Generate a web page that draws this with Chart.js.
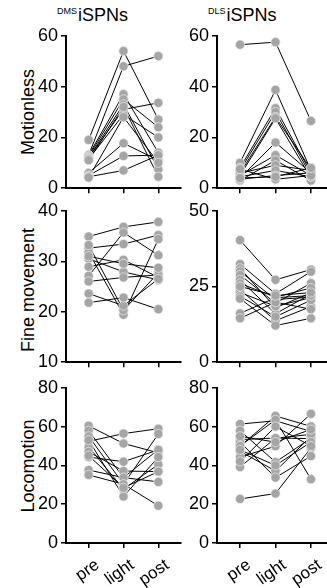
<!DOCTYPE html>
<html>
<head>
<meta charset="utf-8">
<script src="https://cdn.jsdelivr.net/npm/chart.js@4.4.1/dist/chart.umd.min.js"></script>
<style>
html, body { margin: 0; padding: 0; background: #fff; overflow: hidden; width: 327px; height: 588px; }
canvas { position: absolute; }
.title { position: absolute; font-family: "Liberation Sans", Arial, sans-serif; font-size: 18px; line-height: 18px; white-space: nowrap; color: #000; }
.title .sup { font-size: 9px; position: relative; top: -7px; margin-right: 1px; }
.ytitle { position: absolute; font-family: "Liberation Sans", Arial, sans-serif; font-size: 18px; line-height: 18px; white-space: nowrap; color: #000;
  transform: translate(-50%, -50%) rotate(-90deg); }
</style>
</head>
<body>
<div class="title" style="left:57px; top:6px;"><span class="sup">DMS</span>iSPNs</div>
<div class="title" style="left:208px; top:6px;"><span class="sup">DLS</span>iSPNs</div>
<div class="ytitle" style="left:28px; top:112px;">Motionless</div>
<div class="ytitle" style="left:28px; top:290px;">Fine movement</div>
<div class="ytitle" style="left:28px; top:466px;">Locomotion</div>

<canvas id="c1" width="200" height="180" style="left:0px; top:22px;"></canvas>
<canvas id="c2" width="190" height="180" style="left:170px; top:22px;"></canvas>
<canvas id="c3" width="200" height="179" style="left:0px; top:197px;"></canvas>
<canvas id="c4" width="190" height="179" style="left:170px; top:197px;"></canvas>
<canvas id="c5" width="200" height="214" style="left:0px; top:374px;"></canvas>
<canvas id="c6" width="190" height="214" style="left:170px; top:374px;"></canvas>

<script>
const categories = ['pre', 'light', 'post'];

// DMS iSPNs - Motionless
const dmsMotionPre   = [19, 13, 13, 12.5, 12, 12, 11.5, 11, 6, 5, 4.5, 4.2];
const dmsMotionLight = [54, 48, 37, 35, 33, 31, 29, 32, 17.7, 12.7, 7, 28];
const dmsMotionPost  = [27, 52, 14, 24, 7.5, 33.6, 20, 4.5, 11, 13, 13, 10];

// DLS iSPNs - Motionless
const dlsMotionPre   = [56.5, 10, 8, 7, 6, 5, 4, 5, 3, 6, 4.5, 3.5, 7.5, 4];
const dlsMotionLight = [57.5, 38.7, 31.5, 30, 28, 27.5, 18, 13, 11, 9, 7, 5, 3.5, 4.5];
const dlsMotionPost  = [26.5, 7, 6, 5, 7.5, 4, 6, 5, 3, 7, 4.5, 6, 5, 8];

// DMS iSPNs - Fine movement
const dmsFinePre   = [34.9, 32.6, 27.1, 31.8, 33.2, 30.5, 28.9, 26.0, 31.0, 23.6, 21.8];
const dmsFineLight = [36.8, 33.4, 35.7, 19.4, 20.3, 27.9, 30.3, 26.8, 29.5, 21.2, 22.8];
const dmsFinePost  = [37.8, 35.2, 31.2, 34.4, 27.7, 26.3, 26.8, 27.3, 28.7, 26.5, 20.5];

// DLS iSPNs - Fine movement
const dlsFinePre   = [40.3, 32.4, 31, 30, 28.8, 27.2, 26, 24, 23, 21.8, 21, 16.1, 14.5, 25];
const dlsFineLight = [27.2, 22.6, 18, 20.7, 19.5, 16, 21.5, 13.7, 18.5, 15, 12.1, 21.3, 19.8, 22];
const dlsFinePost  = [30.6, 29.9, 22.9, 21.5, 26.1, 22.5, 24.5, 18.4, 21.3, 20.5, 14.5, 22, 17.5, 23];

// DMS iSPNs - Locomotion
const dmsLocoPre   = [60.4, 52.4, 57.9, 55, 49.5, 47, 44.3, 37.6, 35.1, 53, 45];
const dmsLocoLight = [51.3, 56.4, 33.7, 30.3, 27.8, 37.1, 41.9, 33.7, 30.3, 24, 28.5];
const dmsLocoPost  = [46.5, 58.9, 48.2, 56.2, 40.5, 36.8, 48, 31.5, 19.2, 44.3, 36.8];

// DLS iSPNs - Locomotion
const dlsLocoPre   = [61.3, 57.9, 53.3, 49.9, 47.3, 44.3, 39.2, 22.7, 52, 50, 48, 55, 42];
const dlsLocoLight = [63, 41.7, 54.1, 65.5, 37.1, 49.9, 54, 25.5, 33.7, 63.5, 40, 52, 60];
const dlsLocoPost  = [57.5, 54, 53.8, 60.1, 55, 66.6, 56, 49, 44.8, 32.9, 52, 58.5, 50];

const FONT = "'Liberation Sans', Arial, sans-serif";

function makePanel(id, pre, light, post, opts) {
    // one line per animal, all points drawn on top (first dataset = top-most)
    const points = [];
    const lines = [];
    pre.forEach((v, i) => {
        const row = [pre[i], light[i], post[i]].map((y, x) => ({x: x, y: y}));
        row.forEach(p => points.push(p));
        lines.push({
            type: 'line',
            data: row,
            showLine: true,
            borderColor: '#000',
            borderWidth: 1,
            pointRadius: 0,
            fill: false
        });
    });
    const datasets = [{
        type: 'scatter',
        data: points,
        pointRadius: 4.6,
        backgroundColor: '#a5a5a5',
        borderColor: 'rgba(235,235,235,0.9)',
        borderWidth: 0.8
    }].concat(lines);

    const ctx = document.getElementById(id).getContext('2d');
    return new Chart(ctx, {
        type: 'scatter',
        data: { datasets: datasets },
        options: {
            responsive: false,
            animation: false,
            devicePixelRatio: 1,
            layout: { padding: { top: 12, right: opts.padRight, left: 0, bottom: 0 } },
            plugins: { legend: { display: false }, tooltip: { enabled: false } },
            scales: {
                x: {
                    type: 'linear',
                    min: -0.65,
                    max: 2.65,
                    afterBuildTicks: s => { s.ticks = categories.map((c, i) => ({value: i})); },
                    afterFit: s => { s.height = opts.xHeight; },
                    border: { display: true, color: '#000', width: 2 },
                    grid: { display: true, drawOnChartArea: false, drawTicks: true, tickLength: 5, color: '#000', lineWidth: 1.5 },
                    ticks: {
                        display: opts.showLabels,
                        autoSkip: false,
                        minRotation: 35,
                        maxRotation: 35,
                        padding: 7,
                        labelOffset: 9,
                        color: '#000',
                        font: { family: FONT, size: 17 },
                        callback: v => categories[v]
                    }
                },
                y: {
                    min: opts.yMin,
                    max: opts.yMax,
                    afterFit: s => { s.width = opts.yWidth; },
                    border: { display: true, color: '#000', width: 2 },
                    grid: { display: true, drawOnChartArea: false, drawTicks: true, tickLength: 5, color: '#000', lineWidth: 1.5 },
                    ticks: {
                        stepSize: opts.yStep,
                        padding: 3,
                        color: '#000',
                        font: { family: FONT, size: 18 }
                    }
                }
            }
        }
    });
}

const left = { yWidth: 66, padRight: 19 };
const right = { yWidth: 47, padRight: 26 };

makePanel('c1', dmsMotionPre, dmsMotionLight, dmsMotionPost, Object.assign({}, left, { yMin: 0, yMax: 60, yStep: 20, xHeight: 12, showLabels: false }));
makePanel('c2', dlsMotionPre, dlsMotionLight, dlsMotionPost, Object.assign({}, right, { yMin: 0, yMax: 60, yStep: 20, xHeight: 12, showLabels: false }));
makePanel('c3', dmsFinePre, dmsFineLight, dmsFinePost, Object.assign({}, left, { yMin: 10, yMax: 40, yStep: 10, xHeight: 12, showLabels: false }));
makePanel('c4', dlsFinePre, dlsFineLight, dlsFinePost, Object.assign({}, right, { yMin: 0, yMax: 50, yStep: 25, xHeight: 12, showLabels: false }));
makePanel('c5', dmsLocoPre, dmsLocoLight, dmsLocoPost, Object.assign({}, left, { yMin: 0, yMax: 80, yStep: 20, xHeight: 45, showLabels: true }));
makePanel('c6', dlsLocoPre, dlsLocoLight, dlsLocoPost, Object.assign({}, right, { yMin: 0, yMax: 80, yStep: 20, xHeight: 45, showLabels: true }));
</script>
</body>
</html>
